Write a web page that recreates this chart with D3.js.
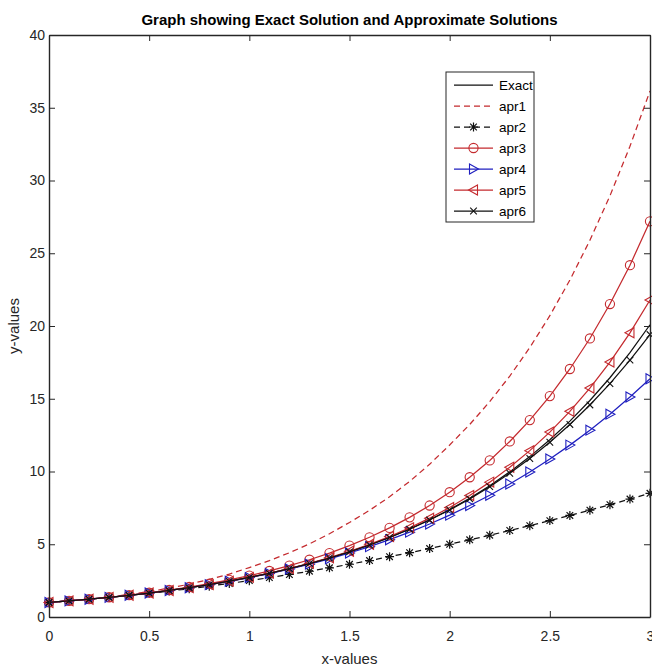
<!DOCTYPE html>
<html>
<head>
<meta charset="utf-8">
<script src="https://cdn.jsdelivr.net/npm/d3@7/dist/d3.min.js"></script>
<style>
  body { margin: 0; background: #fff; }
  svg { display: block; font-family: "Liberation Sans", Arial, sans-serif; }
  .axis path, .axis line { stroke: #262626; }
  .axis text { fill: #262626; font-size: 14px; }
</style>
</head>
<body>
<div id="chart"></div>
<script>
	var width = 652;
	var height = 666;

	// x positions of the samples
	var xValues = [0, 0.1, 0.2, 0.3, 0.4, 0.5, 0.6, 0.7, 0.8, 0.9, 1.0,
		1.1, 1.2, 1.3, 1.4, 1.5, 1.6, 1.7, 1.8, 1.9, 2.0,
		2.1, 2.2, 2.3, 2.4, 2.5, 2.6, 2.7, 2.8, 2.9, 3.0];

	var exact = [1, 1.105, 1.221, 1.350, 1.492, 1.649, 1.822, 2.014, 2.226, 2.460, 2.718,
		3.004, 3.320, 3.669, 4.055, 4.482, 4.953, 5.474, 6.050, 6.686, 7.389,
		8.166, 9.025, 9.974, 11.023, 12.182, 13.464, 14.880, 16.445, 18.174, 20.086];

	var apr1 = [1, 1.105, 1.233, 1.377, 1.552, 1.748, 1.986, 2.256, 2.582, 2.952, 3.398,
		3.875, 4.416, 5.027, 5.718, 6.499, 7.330, 8.266, 9.317, 10.497, 11.822,
		13.229, 14.801, 16.557, 18.519, 20.709, 23.158, 25.891, 28.943, 32.350, 36.155];

	var apr2 = [1, 1.105, 1.22, 1.345, 1.48, 1.625, 1.78, 1.945, 2.12, 2.305, 2.5,
		2.705, 2.92, 3.145, 3.38, 3.625, 3.88, 4.145, 4.42, 4.705, 5.0,
		5.305, 5.62, 5.945, 6.28, 6.625, 6.98, 7.345, 7.72, 8.105, 8.5];

	var apr3 = [1, 1.106, 1.225, 1.357, 1.505, 1.671, 1.855, 2.062, 2.294, 2.552, 2.841,
		3.165, 3.529, 3.936, 4.392, 4.905, 5.478, 6.124, 6.848, 7.662, 8.576,
		9.605, 10.762, 12.065, 13.531, 15.183, 17.045, 19.143, 21.510, 24.179, 27.193];

	var apr4 = [1, 1.105, 1.221, 1.350, 1.492, 1.648, 1.821, 2.012, 2.222, 2.454, 2.708,
		2.988, 3.294, 3.630, 3.997, 4.398, 4.836, 5.312, 5.829, 6.391, 7.0,
		7.659, 8.371, 9.139, 9.966, 10.857, 11.813, 12.840, 13.940, 15.117, 16.375];

	var apr5 = [1, 1.105, 1.221, 1.350, 1.492, 1.649, 1.823, 2.015, 2.228, 2.463, 2.722,
		3.011, 3.330, 3.684, 4.076, 4.512, 4.995, 5.532, 6.129, 6.792, 7.530,
		8.352, 9.269, 10.291, 11.433, 12.708, 14.135, 15.733, 17.524, 19.532, 21.790];

	var apr6 = [1, 1.105, 1.221, 1.350, 1.492, 1.649, 1.822, 2.014, 2.225, 2.460, 2.718,
		3.004, 3.319, 3.668, 4.053, 4.478, 4.946, 5.464, 6.034, 6.663, 7.356,
		8.118, 8.958, 9.881, 10.895, 12.010, 13.233, 14.574, 16.043, 17.652, 19.413];

	var xTicks = [0, 0.5, 1, 1.5, 2, 2.5, 3];
	var yTicks = [0, 5, 10, 15, 20, 25, 30, 35, 40];

	var red = "#c42a2e";
	var blue = "#1f1fbf";
	var black = "#111";

	var series = [
		{name: "Exact", values: exact, color: black, dash: null, marker: null},
		{name: "apr1", values: apr1, color: red, dash: "6,4", marker: null},
		{name: "apr2", values: apr2, color: black, dash: "6,4", marker: "star"},
		{name: "apr3", values: apr3, color: red, dash: null, marker: "circle"},
		{name: "apr4", values: apr4, color: blue, dash: null, marker: "right"},
		{name: "apr5", values: apr5, color: red, dash: null, marker: "left"},
		{name: "apr6", values: apr6, color: black, dash: null, marker: "cross"}
	];

	var plot = {left: 49, right: 650, top: 35, bottom: 617};

	var svg = d3
	.select("#chart")
	.append("svg")
	.attr("width", width)
	.attr("height", height);

	var xScale = d3.scaleLinear()
		.domain([0, 3])
		.range([plot.left, plot.right]);

	var yScale = d3.scaleLinear()
		.domain([0, 40])
		.range([plot.bottom, plot.top]);

	// white axes background
	svg.append("rect")
	.attr("x", plot.left)
	.attr("y", plot.top)
	.attr("width", plot.right - plot.left)
	.attr("height", plot.bottom - plot.top)
	.attr("fill", "#fff");

	// marker shapes, drawn around 0,0
	function drawMarker(g, type, color) {
		if (type === "circle") {
			g.append("circle").attr("r", 4.6)
			.attr("fill", "none").attr("stroke", color).attr("stroke-width", 1.1);
		} else if (type === "right") {
			g.append("path").attr("d", "M-4,-5L5,0L-4,5Z")
			.attr("fill", "none").attr("stroke", color).attr("stroke-width", 1.1);
		} else if (type === "left") {
			g.append("path").attr("d", "M4,-5L-5,0L4,5Z")
			.attr("fill", "none").attr("stroke", color).attr("stroke-width", 1.1);
		} else if (type === "star") {
			g.append("path").attr("d", "M-4.5,0L4.5,0M0,-4.5L0,4.5M-3.3,-3.3L3.3,3.3M-3.3,3.3L3.3,-3.3")
			.attr("fill", "none").attr("stroke", color).attr("stroke-width", 1.2);
		} else if (type === "cross") {
			g.append("path").attr("d", "M-3.3,-3.3L3.3,3.3M-3.3,3.3L3.3,-3.3")
			.attr("fill", "none").attr("stroke", color).attr("stroke-width", 1.1);
		}
	}

	var line = d3.line()
		.x(function(d, i) { return xScale(xValues[i]); })
		.y(function(d) { return yScale(d); });

	var lines = svg.append("g").attr("class", "lines");

	series.forEach(function(s) {
		lines.append("path")
		.datum(s.values)
		.attr("d", line)
		.attr("fill", "none")
		.attr("stroke", s.color)
		.attr("stroke-width", 1.25)
		.attr("stroke-dasharray", s.dash);

		if (s.marker) {
			lines.append("g")
			.selectAll("g")
			.data(s.values)
			.enter()
			.append("g")
			.attr("transform", function(d, i) {
				return "translate(" + xScale(xValues[i]) + "," + yScale(d) + ")";
			})
			.each(function() { drawMarker(d3.select(this), s.marker, s.color); });
		}
	});

	// axes, ticks pointing in like matlab
	var fmt = function(d) { return String(d); };

	svg.append("g")
	.attr("class", "axis")
	.attr("transform", "translate(0," + plot.bottom + ")")
	.call(d3.axisBottom(xScale).tickValues(xTicks).tickFormat(fmt).tickSizeInner(-6).tickSizeOuter(0).tickPadding(14))
	.call(function(g) { g.select(".domain").attr("stroke-width", 1.4); });

	svg.append("g")
	.attr("class", "axis")
	.attr("transform", "translate(0," + plot.top + ")")
	.call(d3.axisTop(xScale).tickValues(xTicks).tickFormat("").tickSizeInner(-6).tickSizeOuter(0))
	.call(function(g) { g.select(".domain").attr("stroke-width", 1.4); });

	svg.append("g")
	.attr("class", "axis")
	.attr("transform", "translate(" + plot.left + ",0)")
	.call(d3.axisLeft(yScale).tickValues(yTicks).tickFormat(fmt).tickSizeInner(-6).tickSizeOuter(0).tickPadding(4))
	.call(function(g) { g.select(".domain").attr("stroke-width", 1.4); });

	svg.append("g")
	.attr("class", "axis")
	.attr("transform", "translate(" + plot.right + ",0)")
	.call(d3.axisRight(yScale).tickValues(yTicks).tickFormat("").tickSizeInner(-6).tickSizeOuter(0))
	.call(function(g) { g.select(".domain").attr("stroke-width", 1.4); });

	// title and axis labels
	svg.append("text")
	.attr("x", (plot.left + plot.right) / 2)
	.attr("y", 25)
	.attr("text-anchor", "middle")
	.attr("font-size", "15px")
	.attr("font-weight", "bold")
	.attr("fill", "#000")
	.text("Graph showing Exact Solution and Approximate Solutions");

	svg.append("text")
	.attr("x", (plot.left + plot.right) / 2)
	.attr("y", 664)
	.attr("text-anchor", "middle")
	.attr("font-size", "15px")
	.attr("fill", "#262626")
	.text("x-values");

	svg.append("text")
	.attr("transform", "translate(19," + ((plot.top + plot.bottom) / 2) + ") rotate(-90)")
	.attr("text-anchor", "middle")
	.attr("font-size", "15px")
	.attr("fill", "#262626")
	.text("y-values");

	// legend
	var legendBox = svg.append("g").attr("class", "legend");

	legendBox.append("rect")
	.attr("x", 446)
	.attr("y", 72)
	.attr("width", 88)
	.attr("height", 150)
	.attr("fill", "#fff")
	.attr("stroke", "#262626")
	.attr("stroke-width", 1);

	var legend = legendBox
	.selectAll("g.item")
	.data(series)
	.enter()
	.append("g")
	.attr("class", "item")
	.attr("transform", function(d, i) {
		return "translate(0," + (85 + i * 21) + ")";
	});

	legend.append("line")
	.attr("x1", 454)
	.attr("x2", 493)
	.attr("stroke", function(d) { return d.color; })
	.attr("stroke-width", 1.25)
	.attr("stroke-dasharray", function(d) { return d.dash; });

	legend.each(function(d) {
		if (d.marker) {
			var m = d3.select(this).append("g").attr("transform", "translate(473.5,0)");
			drawMarker(m, d.marker, d.color);
		}
	});

	legend.append("text")
	.attr("x", 499)
	.attr("dy", "0.35em")
	.attr("font-size", "13.5px")
	.attr("fill", "#000")
	.text(function(d) { return d.name; });
</script>
</body>
</html>
